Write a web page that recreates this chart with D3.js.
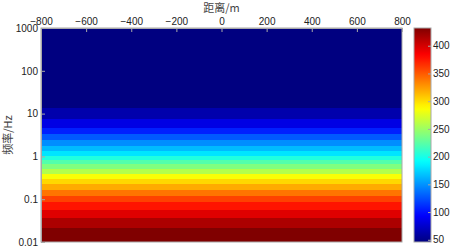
<!DOCTYPE html>
<meta charset="utf-8">
<head>
    <script src="https://d3js.org/d3.v7.min.js"></script>
    <style>
        body { margin: 0; background: #fff; }
        .axis text { font-family: "Liberation Sans", Arial, sans-serif; font-size: 10px; fill: #222; }
        .axis path, .axis line { stroke: #a8a8a8; }
        .lab { font-family: "Noto Sans CJK SC", "Liberation Sans", sans-serif; font-size: 11px; fill: #444; }
    </style>
</head>
<body>
<div id="chart"></div>
<script>
    // band edges in frequency (Hz), from top of the plot to the bottom
    var bandEdges = [1000, 13.7, 7.5, 4.7, 3.3, 2.4, 1.78, 1.34, 1.04, 0.81, 0.65, 0.51,
                     0.39, 0.30, 0.223, 0.164, 0.121, 0.085, 0.057, 0.037, 0.021, 0.01];
    // value of each band (one fewer than edges)
    var bandValues = [46, 63, 84, 106, 128, 148, 165, 181, 203, 222, 239, 258,
                      285, 302, 319, 340, 359, 376, 396, 415, 432];
    var xTicks = [-800, -600, -400, -200, 0, 200, 400, 600, 800];
    var yTicks = [0.01, 0.1, 1, 10, 100, 1000];
    var yTickLabels = ["0.01", "0.1", "1", "10", "100", "1000"];
    var cTicks = [50, 100, 150, 200, 250, 300, 350, 400];
    var cRange = [46, 432];

    var width = 450, height = 248;
    var svg = d3.select("#chart").append("svg")
        .attr("width", width).attr("height", height);

    var x = d3.scaleLinear().domain([-800, 800]).range([41, 402]);
    var y = d3.scaleLog().domain([0.01, 1000]).range([242, 28]);
    var cy = d3.scaleLinear().domain(cRange).range([242, 28]);
    var cnorm = d3.scaleLinear().domain(cRange).range([0, 1]).clamp(true);

    // matlab jet colormap
    function jet(t) {
        var c = function (v) { return Math.max(0, Math.min(1, v)); };
        return d3.rgb(255 * c(1.5 - Math.abs(4 * t - 3)),
                      255 * c(1.5 - Math.abs(4 * t - 2)),
                      255 * c(1.5 - Math.abs(4 * t - 1))).formatHex();
    }
    function color(v) { return jet(cnorm(v)); }

    // bands
    var bands = bandValues.map(function (v, i) {
        return { hi: bandEdges[i], lo: bandEdges[i + 1], v: v };
    });
    svg.append("g").selectAll("rect")
        .data(bands).enter().append("rect")
        .attr("x", x(-800))
        .attr("width", x(800) - x(-800))
        .attr("y", function (d) { return y(d.hi); })
        .attr("height", function (d) { return y(d.lo) - y(d.hi); })
        .attr("fill", function (d) { return color(d.v); })
        .attr("shape-rendering", "crispEdges");

    // axes
    var gx = svg.append("g").attr("class", "axis")
        .attr("transform", "translate(0," + y(1000) + ")")
        .call(d3.axisTop(x).tickValues(xTicks).tickSizeInner(-4).tickSizeOuter(0).tickPadding(3));
    var gy = svg.append("g").attr("class", "axis")
        .attr("transform", "translate(" + x(-800) + ",0)")
        .call(d3.axisLeft(y).tickValues(yTicks).tickSizeInner(-4).tickSizeOuter(0).tickPadding(3)
            .tickFormat(function (d, i) { return yTickLabels[i]; }));
    // box
    svg.append("rect")
        .attr("x", x(-800)).attr("y", y(1000))
        .attr("width", x(800) - x(-800)).attr("height", y(0.01) - y(1000))
        .attr("fill", "none").attr("stroke", "#a8a8a8").attr("stroke-width", 1);

    // titles
    svg.append("text").attr("class", "lab")
        .attr("x", (x(-800) + x(800)) / 2).attr("y", 12)
        .attr("text-anchor", "middle").text("距离/m");
    svg.append("text").attr("class", "lab")
        .attr("transform", "translate(12," + ((y(0.01) + y(1000)) / 2) + ") rotate(-90)")
        .attr("text-anchor", "middle").text("频率/Hz");

    // colorbar
    var cbX = 414, cbW = 17;
    var grad = svg.append("defs").append("linearGradient")
        .attr("id", "jetgrad").attr("x1", 0).attr("y1", 1).attr("x2", 0).attr("y2", 0);
    d3.range(0, 1.0001, 0.02).forEach(function (t) {
        grad.append("stop").attr("offset", t).attr("stop-color", jet(t));
    });
    svg.append("rect")
        .attr("x", cbX).attr("y", cy(cRange[1]))
        .attr("width", cbW).attr("height", cy(cRange[0]) - cy(cRange[1]))
        .attr("fill", "url(#jetgrad)")
        .attr("stroke", "#a8a8a8");
    svg.append("g").attr("class", "axis")
        .attr("transform", "translate(" + (cbX + cbW) + ",0)")
        .call(d3.axisRight(cy).tickValues(cTicks).tickSizeInner(-3).tickSizeOuter(0).tickPadding(2))
        .select(".domain").remove();
</script>
</body>
